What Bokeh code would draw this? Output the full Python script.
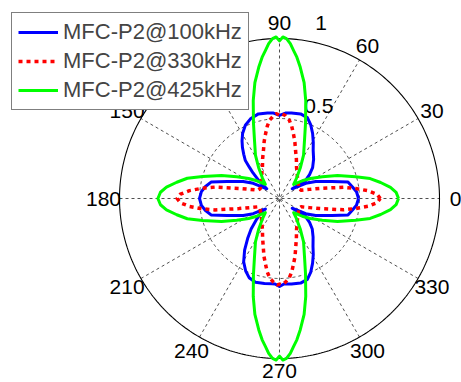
import numpy as np
from bokeh.plotting import figure
from bokeh.models import Range1d, Legend, LegendItem
from bokeh.core.properties import value
from bokeh.embed import file_html
from bokeh.resources import INLINE

# ---------------- data ----------------
series_names = ["MFC-P2@100kHz", "MFC-P2@330kHz", "MFC-P2@425kHz"]

theta_100 = [0, 5, 9, 13.5, 18, 25, 30, 33, 37.5, 36, 35, 38.5, 43, 49, 55, 59, 63, 67, 71, 76, 82, 86, 90,
             94, 98, 104, 110, 115, 119.6, 123, 126, 129, 132, 134, 136, 138.5, 141, 142.5, 147, 150, 155, 162, 166.5, 171, 175, 180,
             185, 189, 193.5, 198, 205, 210, 213, 217, 216, 219, 222, 227, 231.5, 236, 240.5, 245, 249, 254, 260, 265, 267, 270,
             273, 278, 284, 289, 293, 297, 301, 305, 311, 317, 321.5, 325, 324, 322.5, 327, 330, 335, 342, 346.5, 351, 355, 360]
r_100 = [0.494, 0.483, 0.462, 0.44, 0.345, 0.25, 0.19, 0.14, 0.10, 0.13, 0.2, 0.24, 0.283, 0.325, 0.367, 0.41, 0.456, 0.50, 0.535, 0.545, 0.54, 0.535, 0.52,
         0.535, 0.54, 0.545, 0.53, 0.505, 0.467, 0.43, 0.394, 0.355, 0.319, 0.27, 0.23, 0.18, 0.13, 0.10, 0.14, 0.19, 0.25, 0.345, 0.44, 0.47, 0.49, 0.50,
         0.49, 0.47, 0.44, 0.345, 0.25, 0.19, 0.14, 0.11, 0.13, 0.16, 0.19, 0.26, 0.32, 0.39, 0.455, 0.50, 0.53, 0.545, 0.54, 0.535, 0.535, 0.55,
         0.535, 0.54, 0.545, 0.535, 0.50, 0.455, 0.41, 0.365, 0.32, 0.28, 0.24, 0.2, 0.13, 0.10, 0.14, 0.19, 0.25, 0.345, 0.44, 0.462, 0.483, 0.494]

theta_330 = [0, 2.5, 5, 7.5, 10, 14, 17, 21, 27, 35, 45, 53, 61, 67, 71.5, 75, 78, 80.5, 83, 86, 88.5, 90,
             92, 94, 97, 99.5, 102, 105, 108.5, 113, 119, 127, 135, 145, 153, 159, 163, 166, 170, 172.5, 175, 177.5, 180,
             182.5, 185, 187.5, 190, 194, 197, 201, 207, 215, 225, 233, 241, 247, 251.5, 255, 258, 260.5, 263, 266, 268.5, 270,
             271.5, 274, 277, 279.5, 282, 285, 288.5, 293, 299, 307, 315, 325, 333, 339, 343, 346, 350, 352.5, 355, 357.5, 360]
r_330 = [0.63, 0.61, 0.555, 0.48, 0.405, 0.26, 0.195, 0.145, 0.135, 0.145, 0.16, 0.185, 0.22, 0.27, 0.316, 0.37, 0.416, 0.46, 0.495, 0.52, 0.53, 0.52,
         0.53, 0.52, 0.495, 0.46, 0.416, 0.37, 0.316, 0.27, 0.22, 0.185, 0.16, 0.145, 0.135, 0.145, 0.195, 0.26, 0.41, 0.49, 0.565, 0.62, 0.64,
         0.62, 0.565, 0.49, 0.41, 0.26, 0.195, 0.145, 0.135, 0.145, 0.16, 0.185, 0.22, 0.27, 0.32, 0.375, 0.42, 0.465, 0.5, 0.525, 0.54, 0.535,
         0.54, 0.525, 0.5, 0.465, 0.42, 0.375, 0.32, 0.27, 0.22, 0.185, 0.16, 0.145, 0.135, 0.145, 0.195, 0.26, 0.405, 0.48, 0.555, 0.61, 0.63]

theta_425 = [0, 3, 5.7, 9, 12.4, 16, 21.6, 27, 33, 38, 45, 50, 56, 61, 66.7, 71, 75, 78, 81, 83, 84.6, 86, 87.5, 88.8, 90,
             91.2, 92.5, 94, 95.4, 97, 99, 102, 105, 109, 113.3, 119, 124, 130, 135, 142, 147, 153, 158.4, 164, 167.6, 171, 174.3, 177, 180,
             183, 185.7, 189, 192.4, 196, 201.6, 207, 213, 218, 225, 230, 236, 241, 246.7, 251, 255, 258, 261, 263, 264.6, 266, 267.5, 268.8, 270,
             271.2, 272.5, 274, 275.4, 277, 279, 282, 285, 289, 293.3, 299, 304, 310, 315, 322, 327, 333, 338.4, 344, 347.6, 351, 354.3, 357, 360]
r_425 = [0.744, 0.73, 0.697, 0.64, 0.58, 0.495, 0.39, 0.3, 0.23, 0.18, 0.125, 0.165, 0.234, 0.31, 0.395, 0.5, 0.634, 0.74, 0.83, 0.89, 0.93, 0.97, 1.0, 1.01, 0.985,
         1.01, 1.0, 0.97, 0.93, 0.89, 0.83, 0.74, 0.634, 0.5, 0.395, 0.31, 0.234, 0.165, 0.125, 0.18, 0.23, 0.3, 0.39, 0.5, 0.59, 0.65, 0.71, 0.745, 0.76,
         0.745, 0.71, 0.65, 0.59, 0.5, 0.39, 0.3, 0.23, 0.18, 0.125, 0.165, 0.234, 0.31, 0.395, 0.5, 0.634, 0.74, 0.83, 0.89, 0.93, 0.97, 1.0, 1.01, 0.985,
         1.01, 1.0, 0.97, 0.93, 0.89, 0.83, 0.74, 0.634, 0.5, 0.395, 0.31, 0.234, 0.165, 0.125, 0.18, 0.23, 0.3, 0.39, 0.495, 0.58, 0.64, 0.697, 0.73, 0.744]

angle_ticks = [0, 30, 60, 90, 120, 150, 180, 210, 240, 270, 300, 330]
angle_labels = ["0", "30", "60", "90", "120", "150", "180", "210", "240", "270", "300", "330"]
r_ticks = [0.5, 1.0]
r_labels = ["0.5", "1"]
r_max = 1.0

# ---------------- figure ----------------
SCALE = 160.0          # pixels per unit radius
CX, CY = 279.0, 198.0  # centre in pixels from top-left
W, H = 461, 382

p = figure(width=W, height=H, output_backend="svg", toolbar_location=None,
           x_range=Range1d(-CX / SCALE, (W - CX) / SCALE),
           y_range=Range1d(-(H - CY) / SCALE, CY / SCALE),
           x_axis_type=None, y_axis_type=None, min_border=0)
p.grid.visible = False
p.outline_line_color = None
p.background_fill_color = "white"
p.border_fill_color = "white"

FONT = "Liberation Sans"

# spokes
sp = np.deg2rad(np.array(angle_ticks[:6], dtype=float))
p.segment(x0=-r_max * np.cos(sp), y0=-r_max * np.sin(sp), x1=r_max * np.cos(sp), y1=r_max * np.sin(sp),
          line_color="#222222", line_width=0.8, line_dash="3 3")
# inner dashed ring(s) and solid outer ring
tt = np.linspace(0, 2 * np.pi, 361)
for rr in r_ticks[:-1]:
    p.line(rr * np.cos(tt), rr * np.sin(tt), line_color="#222222", line_width=0.8, line_dash="3 3")
p.line(r_max * np.cos(tt), r_max * np.sin(tt), line_color="black", line_width=1.1)

# angle labels on the 1.1*rmax ring
at = np.deg2rad(np.array(angle_ticks, dtype=float))
lab_yoff = [0 if a != 270 else -4 for a in angle_ticks]
p.text(x=1.1 * r_max * np.cos(at), y=1.1 * r_max * np.sin(at), text=angle_labels,
       text_align="center", text_baseline="middle", y_offset=lab_yoff,
       text_font=value(FONT), text_font_size="21px", text_color="black")

# radial labels (MATLAB style at 82 degrees)
c82, s82 = np.cos(np.deg2rad(82)), np.sin(np.deg2rad(82))
rl = np.array(r_ticks) + 0.5 / 20
p.text(x=rl * c82, y=rl * s82, text=r_labels, text_align="left", text_baseline="bottom",
       x_offset=13, y_offset=[-2, -6], text_font=value(FONT), text_font_size="21px", text_color="black")

# data lines
def xy(th, r):
    th = np.deg2rad(np.array(th, dtype=float))
    r = np.array(r, dtype=float)
    return r * np.cos(th), r * np.sin(th)

x1, y1 = xy(theta_100, r_100)
x2, y2 = xy(theta_330, r_330)
x3, y3 = xy(theta_425, r_425)
l1 = p.line(x1, y1, line_color="#0000ff", line_width=3, line_join="round")
l2 = p.line(x2, y2, line_color="#ff0000", line_width=3.5, line_dash="4 4", line_join="round")
l3 = p.line(x3, y3, line_color="#00ff00", line_width=3, line_join="round")

legend = Legend(items=[LegendItem(label=series_names[0], renderers=[l1]),
                       LegendItem(label=series_names[1], renderers=[l2]),
                       LegendItem(label=series_names[2], renderers=[l3])],
                location=(11, H - 110), orientation="vertical",
                label_text_font=FONT, label_text_font_size="22px",
                glyph_width=40, glyph_height=20, label_height=20, label_standoff=5,
                spacing=3, padding=6, margin=0,
                border_line_color="black", border_line_width=1,
                background_fill_color="white", background_fill_alpha=1.0)
p.add_layout(legend)

open("out.html", "w").write(file_html(p, INLINE))
